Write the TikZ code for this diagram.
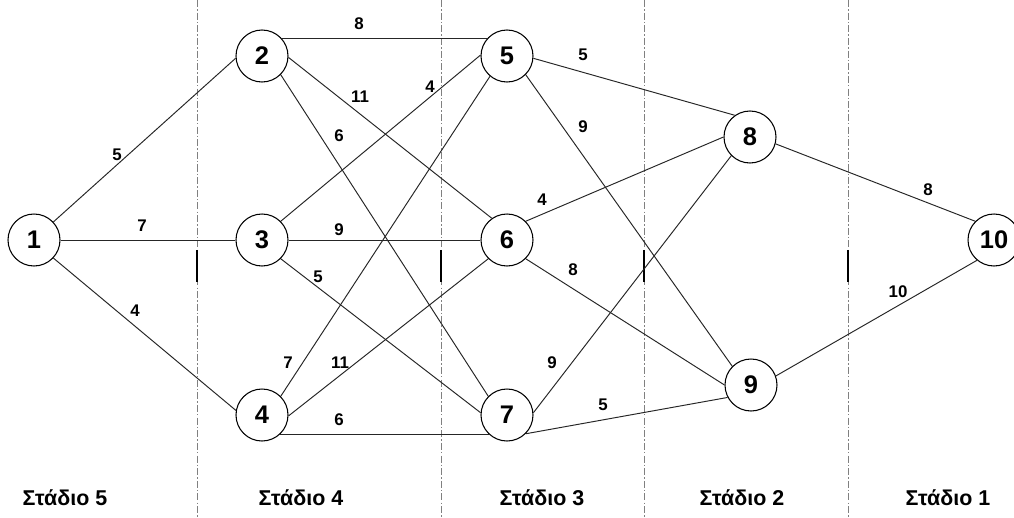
\documentclass[tikz,border=0pt]{standalone}
\usepackage{fontspec}
\setmainfont{Liberation Sans}
\usepackage{tikz}
\tikzstyle{circ} = [circle, draw = black, line width = 0.6pt, fill = white, inner sep = 0pt, minimum size = 10.4mm, font = \fontsize{14.5}{15}\selectfont\bfseries]
\tikzstyle{edge} = [black!85, line width = 0.55pt]
\tikzstyle{cost} = [inner sep = 0pt, font = \fontsize{9.6}{10}\selectfont\bfseries]
\tikzstyle{stage} = [inner sep = 0pt, font = \fontsize{12.2}{13}\selectfont\bfseries]
\tikzstyle{border} = [gray, line width = 0.5pt, dash pattern = on 4pt off 1.2pt on 0.8pt off 1.2pt]
\tikzstyle{tick} = [black, line width = 1.1pt]

\begin{document}
\begin{tikzpicture}[x = 0.2mm, y = -0.2mm]
    \useasboundingbox (0, 0) rectangle (1014, 517);

    % stage borders
    \foreach \x in {197, 441, 644, 848} {
        \draw [border] (\x, 0) -- (\x, 517);
        \draw [tick] (\x, 250) -- (\x, 282);
    }

    \node (n1) at (34, 240) [circ] {1};
    \node (n2) at (262, 56) [circ] {2};
    \node (n3) at (262, 240) [circ] {3};
    \node (n4) at (262, 415) [circ] {4};
    \node (n5) at (507, 56) [circ] {5};
    \node (n6) at (507, 240) [circ] {6};
    \node (n7) at (507, 415) [circ] {7};
    \node (n8) at (750, 137) [circ] {8};
    \node (n9) at (751, 385) [circ] {9};
    \node (n10) at (994, 240) [circ] {10};

    \draw [edge] (n1.43) -- (n2.185);
    \draw [edge] (n1.east) -- (n3.west);
    \draw [edge] (n1.-43) -- (n4.170);

    \draw [edge] (n2.41) -- (n5.139);
    \draw [edge] (n2.-3) -- (n6.125);
    \draw [edge] (n2.-45) -- (n7.135);
    \draw [edge] (n3.45) -- (n5.178);
    \draw [edge] (n3.east) -- (n6.west);
    \draw [edge] (n3.-45) -- (n7.175);
    \draw [edge] (n4.45) -- (n5.-130);
    \draw [edge] (n4.-2) -- (n6.-135);
    \draw [edge] (n4.-47) -- (n7.-133);

    \draw [edge] (n5.-5) -- (n8.125);
    \draw [edge] (n5.-45) -- (n9.135);
    \draw [edge] (n6.45) -- (n8.180);
    \draw [edge] (n6.-45) -- (n9.180);
    \draw [edge] (n7.5) -- (n8.-135);
    \draw [edge] (n7.-45) -- (n9.-152);

    \draw [edge] (n8.-15) -- (n10.135);
    \draw [edge] (n9.20) -- (n10.-130);

    % costs
    \node (c12) at (117, 155) [cost] {5};
    \node (c13) at (142, 226) [cost] {7};
    \node (c14) at (135, 311) [cost] {4};
    \node (c25) at (359, 24) [cost] {8};
    \node (c26) at (360, 97) [cost] {11};
    \node (c35) at (430, 87) [cost] {4};
    \node (c27) at (339, 136) [cost] {6};
    \node (c36) at (339, 230) [cost] {9};
    \node (c37) at (318, 277) [cost] {5};
    \node (c45) at (288, 363) [cost] {7};
    \node (c46) at (340, 363) [cost] {11};
    \node (c47) at (339, 420) [cost] {6};
    \node (c58) at (583, 55) [cost] {5};
    \node (c59) at (583, 127) [cost] {9};
    \node (c68) at (542, 200) [cost] {4};
    \node (c69) at (573, 270) [cost] {8};
    \node (c78) at (552, 363) [cost] {9};
    \node (c79) at (603, 405) [cost] {5};
    \node (c810) at (928, 190) [cost] {8};
    \node (c910) at (898, 292) [cost] {10};

    % stage names
    \node (s5) at (65, 498) [stage] {Στάδιο 5};
    \node (s4) at (301, 498) [stage] {Στάδιο 4};
    \node (s3) at (542, 498) [stage] {Στάδιο 3};
    \node (s2) at (742, 498) [stage] {Στάδιο 2};
    \node (s1) at (948, 498) [stage] {Στάδιο 1};
\end{tikzpicture}
\end{document}
